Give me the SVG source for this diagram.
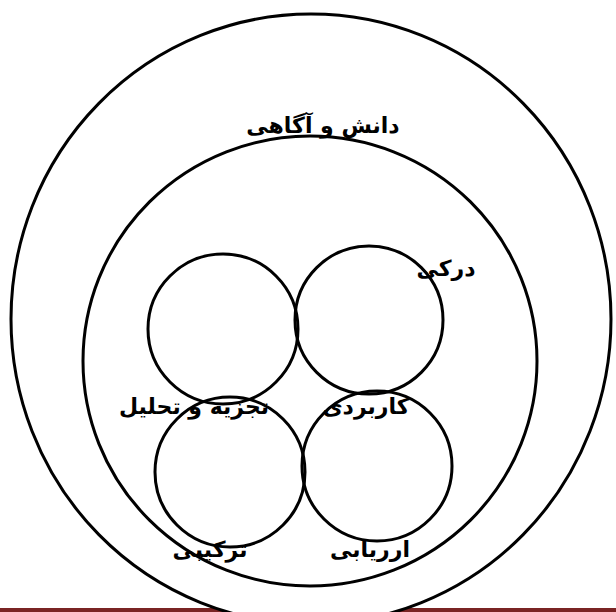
<svg xmlns="http://www.w3.org/2000/svg" width="616" height="612" viewBox="0 0 616 612">
<style>
.ring{fill:none;stroke:#000;stroke-width:3}
.lbl{font-family:"DejaVu Sans",sans-serif;font-weight:bold;font-size:22px;fill:#000;text-anchor:middle}
</style>
<rect x="0" y="0" width="616" height="612" fill="#fff"/>
<rect id="bottom-bar" x="0" y="608" width="616" height="4" fill="#7a2424"/>
<g id="outer">
<ellipse cx="311" cy="319" rx="300" ry="305" fill="#fff" stroke="#000" stroke-width="3"/>
<text class="lbl" x="323" y="133">دانش و آگاهی</text>
</g>
<g id="inner">
<ellipse class="ring" cx="310" cy="361" rx="227" ry="225"/>
</g>
<g id="c-tl">
<circle class="ring" cx="223" cy="329" r="75"/>
</g>
<g id="c-tr">
<circle class="ring" cx="369" cy="320" r="74"/>
<text class="lbl" x="446" y="276">درکی</text>
</g>
<g id="c-bl">
<circle class="ring" cx="230" cy="472" r="75"/>
<text class="lbl" x="194" y="414">تجزیه و تحلیل</text>
<text class="lbl" x="210" y="557">ترکیبی</text>
</g>
<g id="c-br">
<circle class="ring" cx="377" cy="466" r="75"/>
<text class="lbl" x="366" y="414">کاربردی</text>
<text class="lbl" x="370" y="557">ارریابی</text>
</g>
</svg>
